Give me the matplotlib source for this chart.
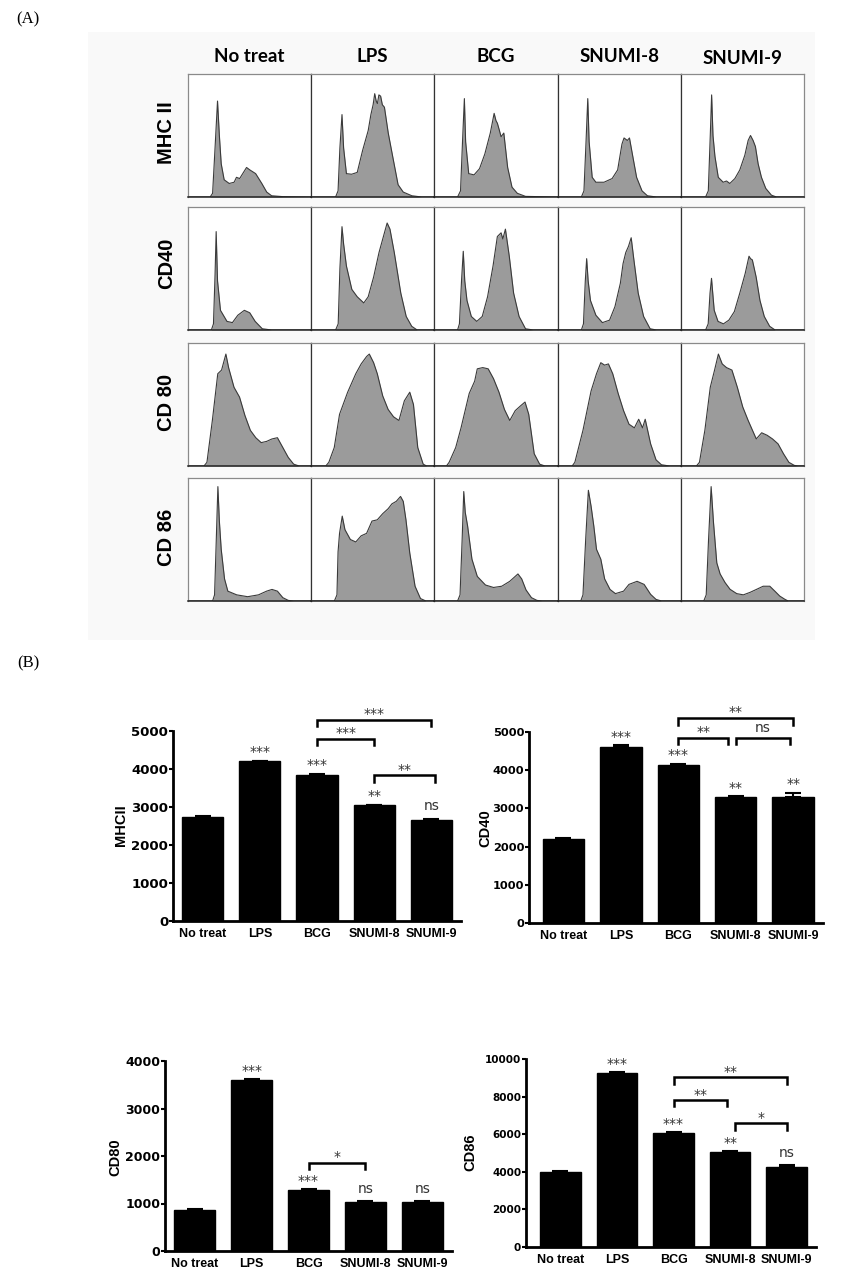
import matplotlib

matplotlib.use("Agg")
import matplotlib.pyplot as plt
import numpy as np
from matplotlib.patches import Rectangle

# ---- panel A: flow cytometry histograms, (channel, % of max) ----
groups = ["No treat", "LPS", "BCG", "SNUMI-8", "SNUMI-9"]
markers = ["MHC II", "CD40", "CD 80", "CD 86"]

mhc2_notreat = [(0, 0), (18, 0), (20, 3), (22, 40), (24, 78), (25.5, 50), (27, 27), (29.4, 14), (33.5, 11),
                (37.5, 12), (39.4, 16), (42, 15), (47.6, 24), (50.3, 22), (55, 19), (60, 11), (64, 4), (68, 1),
                (77, 0.3), (100, 0)]
mhc2_lps = [(0, 0), (20, 0), (22, 5), (23.5, 40), (25.2, 67), (26.5, 40), (28.8, 19), (33, 18.5), (37.6, 20),
            (42, 38), (46.5, 54), (48.7, 67), (50.5, 75), (51.8, 84), (53, 78), (54, 76), (55.2, 83), (56.6, 82),
            (58, 75), (59.7, 73), (62.8, 52), (66.4, 33), (70.8, 10), (75, 4), (82, 1), (90, 0), (100, 0)]
mhc2_bcg = [(0, 0), (19, 0), (21.4, 5), (23, 45), (24.5, 80), (25.5, 45), (28, 19), (32.3, 18), (36.7, 23),
            (41, 35), (45.4, 52), (48.5, 68), (50, 62), (51.1, 60), (52.5, 55), (54.1, 49), (56.3, 52), (59.4, 24),
            (62.9, 8), (67.2, 3), (73.8, 0.5), (100, 0)]
mhc2_snumi8 = [(0, 0), (19, 0), (21.1, 5), (22.8, 45), (24.2, 80), (25.3, 45), (27.8, 16), (30.8, 12), (37.4, 12),
               (44, 15), (48.5, 22), (52, 43), (53.7, 48), (55, 47), (56.4, 46), (58.1, 48), (60.8, 33), (63.9, 16),
               (68.3, 5), (72.7, 1), (80, 0), (100, 0)]
mhc2_snumi9 = [(0, 0), (20, 0), (22.2, 5), (23.8, 50), (24.9, 83), (26, 50), (27.6, 33), (30.3, 16), (34.3, 12),
               (37, 13), (39.7, 11), (43.8, 15), (47.8, 22), (51.9, 34), (54.6, 46), (56.5, 50), (58.6, 46),
               (60.5, 41), (62.7, 27), (65.4, 16), (68.9, 7), (73.5, 1.5), (77.6, 0), (100, 0)]

cd40_notreat = [(0, 0), (19, 0), (20.7, 5), (22, 45), (22.9, 80), (24, 40), (26.4, 16), (31.7, 7), (36.1, 6),
                (40.5, 12), (45.8, 16), (50.2, 14), (54.6, 7), (60.4, 1), (68, 0), (100, 0)]
cd40_lps = [(0, 0), (20, 0), (22.1, 5), (23.5, 50), (25.2, 84), (26.5, 70), (28.8, 52), (33.2, 33), (37.6, 27),
            (42.9, 22), (46.5, 27), (50.9, 43), (55.3, 63), (59.7, 79), (61.9, 87), (64.2, 82), (67.7, 63),
            (73, 30), (77.4, 11), (81.9, 3), (86.3, 0), (100, 0)]
cd40_bcg = [(0, 0), (19, 0), (20.5, 5), (22.2, 40), (23.6, 64), (24.8, 40), (26.6, 24), (30.1, 11), (34.5, 7),
            (38.9, 11), (43.2, 27), (47.6, 52), (51.1, 76), (54.1, 79), (55.5, 74), (57.6, 82), (60.7, 60),
            (64.2, 30), (68.6, 11), (73.8, 1), (80, 0), (100, 0)]
cd40_snumi8 = [(0, 0), (19, 0), (20.7, 5), (22.2, 40), (23.3, 58), (24.5, 40), (26.4, 24), (30.8, 12), (36.1, 6),
               (41.9, 8), (46.3, 19), (50.7, 38), (52.9, 54), (55.1, 63), (57.3, 68), (59.5, 75), (61.7, 57),
               (65.2, 30), (69.6, 11), (74.9, 1), (80, 0), (100, 0)]
cd40_snumi9 = [(0, 0), (20, 0), (22.1, 5), (23.6, 30), (24.8, 42), (25.8, 30), (27, 16), (30.1, 7), (34.5, 5),
               (38.9, 8), (43.4, 15), (47.8, 30), (52.2, 46), (55.3, 60), (56.5, 58), (58, 57), (61.1, 43),
               (64.2, 24), (67.7, 11), (72.1, 3), (76.5, 0), (100, 0)]

cd80_notreat = [(0, 0), (13, 0), (15.4, 3), (19.8, 37), (24.2, 75), (27.3, 78), (30.8, 91), (33, 80), (37.4, 64),
                (41.9, 56), (46.3, 41), (50.7, 29), (55.1, 23), (59.5, 19), (63.9, 20), (68.3, 22), (72.7, 23),
                (77.1, 15), (81.5, 7), (85.9, 1.5), (90.3, 0), (100, 0)]
cd80_lps = [(0, 0), (12, 0), (14.5, 3), (18.9, 15), (23.2, 42), (29.8, 60), (36.4, 75), (40.8, 83), (45.2, 89),
            (47.4, 91), (50.9, 84), (53.9, 75), (58.3, 57), (62.7, 46), (67.1, 40), (71.5, 37), (75.9, 53),
            (80.3, 60), (83.3, 50), (86.8, 15), (91.2, 1.5), (94, 0), (100, 0)]
cd80_bcg = [(0, 0), (10, 0), (12.2, 3), (17.5, 15), (21.8, 31), (28.4, 59), (32.8, 69), (34.9, 79), (39.3, 80),
            (43.7, 79), (48, 71), (52.4, 60), (56.8, 46), (61.1, 37), (65.5, 45), (69.9, 49), (73.4, 52),
            (76.4, 42), (80.8, 10), (85.2, 1.5), (89.5, 0), (100, 0)]
cd80_snumi8 = [(0, 0), (11.5, 0), (13.7, 3), (20.3, 29), (26.9, 61), (31.3, 75), (34.8, 84), (37.9, 82), (41, 83),
               (44.5, 75), (48.9, 59), (53.3, 45), (57.7, 34), (62.1, 31), (65.6, 38), (68.7, 31), (70.9, 38),
               (75.3, 18), (79.7, 5), (84.1, 1), (90.7, 0), (100, 0)]
cd80_snumi9 = [(0, 0), (12.5, 0), (15, 3), (19.4, 29), (23.8, 64), (27.3, 78), (30.4, 91), (33.5, 83), (37, 80),
               (41.4, 78), (45.8, 64), (50.2, 48), (54.6, 37), (61.2, 22), (65.6, 27), (70, 25), (74.4, 22),
               (78.9, 18), (83.3, 10), (87.7, 3), (92.1, 0.5), (95, 0), (100, 0)]

cd86_notreat = [(0, 0), (20, 0), (21.6, 5), (23, 50), (24.3, 93), (25.5, 65), (27, 42), (29.7, 18), (32.4, 8),
                (39.6, 5), (48.5, 3.5), (57.3, 5), (63.9, 8), (68.3, 9.4), (72.7, 8), (77.1, 2.7), (81.5, 0.5),
                (85.9, 0), (100, 0)]
cd86_lps = [(0, 0), (19, 0), (21.1, 5), (22, 40), (23.2, 55), (25.4, 69), (27.6, 58), (32, 50), (36.4, 48),
            (40.8, 53), (45.2, 55), (49.6, 65), (53.9, 66), (58.3, 71), (62.7, 75), (65.8, 79), (69.3, 81),
            (72.8, 85), (75, 81), (77.2, 66), (80.3, 39), (84.6, 12), (89, 2), (93.4, 0), (100, 0)]
cd86_bcg = [(0, 0), (19, 0), (21, 5), (22.7, 50), (24, 89), (25.2, 72), (27.1, 61), (30.6, 34), (34.9, 20),
            (41.5, 13), (48, 11), (54.6, 12), (61.1, 16), (67.7, 22), (70.7, 18), (74.2, 9), (78.6, 2.7),
            (83, 0.5), (87.3, 0), (100, 0)]
cd86_snumi8 = [(0, 0), (18.5, 0), (20.3, 5), (22.5, 50), (24.7, 90), (26.9, 77), (29.1, 61), (31.3, 42),
               (34.8, 34), (37.9, 18), (42.3, 9.4), (46.7, 6), (53.3, 8), (57.7, 13.5), (64.3, 16), (70, 13.5),
               (75.3, 5.4), (79.7, 1.3), (84.1, 0), (100, 0)]
cd86_snumi9 = [(0, 0), (18.5, 0), (20.5, 5), (22.4, 50), (24.5, 93), (26.4, 64), (29.1, 31), (31.8, 22),
               (35.8, 15), (39.9, 9.5), (45.3, 6), (50.7, 5), (56.1, 7), (61.5, 9.5), (66.8, 12), (72.2, 12),
               (76.3, 8), (80.3, 4), (84.4, 1.4), (87.1, 0), (100, 0)]

hist_rows = [
    [mhc2_notreat, mhc2_lps, mhc2_bcg, mhc2_snumi8, mhc2_snumi9],
    [cd40_notreat, cd40_lps, cd40_bcg, cd40_snumi8, cd40_snumi9],
    [cd80_notreat, cd80_lps, cd80_bcg, cd80_snumi8, cd80_snumi9],
    [cd86_notreat, cd86_lps, cd86_bcg, cd86_snumi8, cd86_snumi9],
]

# ---- panel B: mean fluorescence (bar height, error) ----
mhcii_mean = [2730, 4200, 3830, 3040, 2670]
mhcii_err = [30, 20, 50, 25, 25]
mhcii_sig = ["", "***", "***", "**", "ns"]
mhcii_pairs = [(2, 4, 5300, "***"), (2, 3, 4800, "***"), (3, 4.06, 3840, "**")]

cd40_mean = [2190, 4620, 4130, 3290, 3310]
cd40_err = [30, 30, 40, 30, 100]
cd40_sig = ["", "***", "***", "**", "**"]
cd40_pairs = [(2, 4, 5370, "**"), (2, 2.87, 4850, "**"), (3, 3.95, 4850, "ns")]

cd80_mean = [870, 3600, 1280, 1030, 1040]
cd80_err = [20, 15, 20, 20, 15]
cd80_sig = ["", "***", "***", "ns", "ns"]
cd80_pairs = [(2, 3, 1860, "*")]

cd86_mean = [3980, 9280, 6050, 5030, 4230]
cd86_err = [80, 40, 80, 80, 130]
cd86_sig = ["", "***", "***", "**", "ns"]
cd86_pairs = [(2, 4, 9040, "**"), (2, 2.94, 7830, "**"), (3.08, 4, 6580, "*")]

W, H = 850, 1281
fig = plt.figure(figsize=(W / 100, H / 100), dpi=100)


def add_ax(left, top, right, bottom):
    return fig.add_axes([left / W, 1 - bottom / H, (right - left) / W, (bottom - top) / H])


# faint backdrop of panel A
fig.patches.append(Rectangle((88 / W, 1 - 640 / H), (815 - 88) / W, (640 - 32) / H,
                             transform=fig.transFigure, facecolor="#f9f9f9", edgecolor="none", zorder=-5))
fig.text(28 / W, 1 - 19 / H, "(A)", family="Liberation Serif", size=12, ha="center", va="center")
fig.text(28 / W, 1 - 663 / H, "(B)", family="Liberation Serif", size=12, ha="center", va="center")

col_edges = [188, 311, 434, 558, 681, 804]
row_tops = [74, 207, 343, 478]
row_h = 123
header_y = [56, 56, 56, 56, 58]
label_y = [133, 263, 402, 537]

for c, name in enumerate(groups):
    xc = (col_edges[c] + col_edges[c + 1]) / 2
    fig.text(xc / W, 1 - header_y[c] / H, name, family="Lato", weight="bold", size=13.5,
             ha="center", va="center")

for r, row in enumerate(hist_rows):
    fig.text(167 / W, 1 - label_y[r] / H, markers[r], family="Liberation Sans", weight="bold", size=14.5,
             rotation=90, ha="center", va="center")
    for c, pts in enumerate(row):
        ax = add_ax(col_edges[c], row_tops[r], col_edges[c + 1], row_tops[r] + row_h)
        ax.set_zorder(2)
        ax.set_facecolor("white")
        ch = np.array([p[0] for p in pts])
        cnt = np.array([p[1] for p in pts])
        ax.fill_between(ch, cnt, color="#9b9b9b", lw=0)
        ax.plot(ch, cnt, color="#3a3a3a", lw=0.8)
        ax.set_xlim(0, 100)
        ax.set_ylim(0, 100)
        ax.set_xticks([])
        ax.set_yticks([])
        for side in ["top", "right", "left"]:
            ax.spines[side].set_color("#8a8a8a")
            ax.spines[side].set_linewidth(0.9)
        if c > 0:
            ax.spines["left"].set_color("#333333")
        ax.spines["bottom"].set_color("#222222")
        ax.spines["bottom"].set_linewidth(1.1)


def bar_panel(box, means, errs, sig, pairs, ylabel, label_xy, ymax, step, tick_size, xlim_left):
    ax = add_ax(*box)
    x = np.arange(len(groups))
    ax.bar(x, means, width=0.72, color="black", edgecolor="black", zorder=2)
    ax.errorbar(x, means, yerr=[np.zeros(len(errs)), errs], fmt="none", ecolor="black",
                elinewidth=1.5, capsize=6, capthick=1.5, zorder=3)
    ax.set_xlim(xlim_left, 4.52)
    ax.set_ylim(0, ymax)
    ax.set_yticks(np.arange(0, ymax + 1, step))
    for lab in ax.get_yticklabels():
        lab.set_fontweight("bold")
        lab.set_fontsize(tick_size)
        lab.set_family("DejaVu Sans")
    ax.set_xticks(x)
    ax.set_xticklabels(groups, fontfamily="Liberation Sans", fontweight="bold", fontsize=9)
    ax.tick_params(axis="y", direction="out", length=3, width=1.5, pad=0.5)
    ax.tick_params(axis="x", length=0, pad=5)
    ax.spines["top"].set_visible(False)
    ax.spines["right"].set_visible(False)
    ax.spines["left"].set_linewidth(2)
    ax.spines["bottom"].set_linewidth(2)
    fig.text(label_xy[0] / W, 1 - label_xy[1] / H, ylabel, family="Liberation Sans", weight="bold",
             size=10.5, rotation=90, ha="center", va="center")
    off = 0.065 * ymax
    for i, s in enumerate(sig):
        if s:
            ax.annotate(s, (i, means[i] + errs[i] + off), xytext=(0, -3 if "*" in s else 0),
                        textcoords="offset points", ha="center", va="center", fontsize=10,
                        color="#333333", annotation_clip=False)
    drop = 0.035 * ymax
    for x0, x1, yb, s in pairs:
        ax.plot([x0, x0, x1, x1], [yb - drop, yb, yb, yb - drop], color="black", lw=1.8,
                clip_on=False, solid_joinstyle="miter")
        ax.annotate(s, ((x0 + x1) / 2, yb + 0.05 * ymax), xytext=(0, -3 if "*" in s else 0),
                    textcoords="offset points", ha="center", va="center", fontsize=10,
                    color="#333333", annotation_clip=False)
    return ax


bar_panel((173, 731, 461, 921), mhcii_mean, mhcii_err, mhcii_sig, mhcii_pairs, "MHCII", (121, 825),
          5000, 1000, 9.5, -0.52)
bar_panel((529, 732, 823, 923), cd40_mean, cd40_err, cd40_sig, cd40_pairs, "CD40", (485, 828),
          5000, 1000, 8.2, -0.6)
bar_panel((165, 1061, 452, 1251), cd80_mean, cd80_err, cd80_sig, cd80_pairs, "CD80", (115, 1157),
          4000, 1000, 9, -0.52)
bar_panel((526, 1059, 816, 1247), cd86_mean, cd86_err, cd86_sig, cd86_pairs, "CD86", (470, 1152),
          10000, 2000, 7.5, -0.61)

fig.savefig("out.png", dpi=100)
